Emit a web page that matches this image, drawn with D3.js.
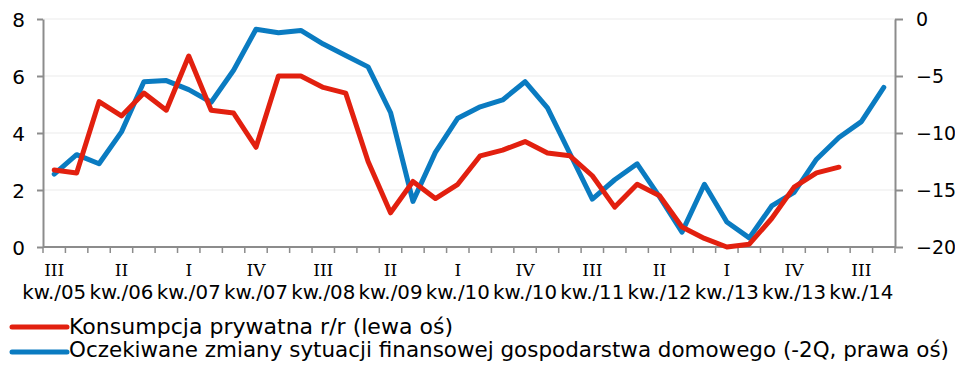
<!DOCTYPE html>
<html><head><meta charset="utf-8">
<script src="https://cdn.jsdelivr.net/npm/d3@7"></script>
<style>body{margin:0;background:#fff}svg{display:block}</style>
</head><body>
<svg id="c" width="955" height="365"></svg>
<script>
const romans = ["III","II","I","IV","III","II","I","IV","III","II","I","IV","III"];
const years  = ["05","06","07","07","08","09","10","10","11","12","13","13","14"];
// quarters 2005Q3 .. 2014Q4 (38 categories)
const quarters = d3.range(38);
const konsumpcja = [2.7,2.6,5.1,4.6,5.4,4.8,6.7,4.8,4.7,3.5,6.0,6.0,5.6,5.4,3.0,1.2,2.3,1.7,2.2,3.2,3.4,3.7,3.3,3.2,2.5,1.4,2.2,1.8,0.7,0.3,0.0,0.1,1.0,2.1,2.6,2.8];
const oczekiwane = [-13.6,-11.9,-12.7,-9.9,-5.5,-5.4,-6.2,-7.3,-4.5,-0.9,-1.2,-1.0,-2.2,-3.2,-4.2,-8.2,-16.0,-11.7,-8.7,-7.7,-7.1,-5.5,-7.8,-11.8,-15.8,-14.1,-12.7,-15.6,-18.7,-14.5,-17.8,-19.2,-16.4,-15.2,-12.3,-10.4,-9.0,-6.0];
const leftTicks = [0,2,4,6,8];
const rightTicks = [-20,-15,-10,-5,0];
const legendLabels = ["Konsumpcja prywatna r/r (lewa oś)","Oczekiwane zmiany sytuacji finansowej gospodarstwa domowego (-2Q, prawa oś)"];
const colors = ["#e2200f","#0a7bc1"];

const svg = d3.select("#c");
const L=43, R=895, T=19, B=247;
const x = d3.scaleBand().domain(quarters).range([L,R]);
const yL = d3.scaleLinear().domain([0,8]).range([B,T]);
const yR = d3.scaleLinear().domain([-20,0]).range([B,T]);
const axisCol = "#8c8c8c";
const font = "'DejaVu Sans', Verdana, sans-serif";

// grid
svg.append("g").selectAll("line").data(leftTicks.filter(d=>d>0)).join("line")
  .attr("x1",L).attr("x2",R).attr("y1",d=>yL(d)).attr("y2",d=>yL(d))
  .attr("stroke","#ebebeb").attr("stroke-width",1);

// left axis
const gl = svg.append("g").attr("transform",`translate(${L},0)`)
  .call(d3.axisLeft(yL).tickValues(leftTicks).tickSize(6).tickSizeOuter(0).tickPadding(12));
// right axis
const gr = svg.append("g").attr("transform",`translate(${R},0)`)
  .call(d3.axisRight(yR).tickValues(rightTicks).tickSize(8).tickSizeOuter(0).tickPadding(13));
[gl,gr].forEach(g=>{
  g.select(".domain").attr("stroke",axisCol).attr("stroke-width",2);
  g.selectAll(".tick line").attr("stroke",axisCol).attr("stroke-width",2);
  g.selectAll(".tick text").attr("font-family",font).attr("font-size",20).attr("fill","#000").attr("dy","0.36em");
});
gr.selectAll(".tick text").attr("font-size",19);

// bottom axis
const gb = svg.append("g");
gb.append("line").attr("x1",L).attr("x2",R).attr("y1",B).attr("y2",B).attr("stroke",axisCol).attr("stroke-width",2);
const bounds = quarters.map(q=>x(q)).concat([x.range()[1]]);
gb.selectAll("line.t").data(bounds).join("line").attr("class","t")
  .attr("x1",d=>d).attr("x2",d=>d).attr("y1",B).attr("y2",B+6).attr("stroke",axisCol).attr("stroke-width",1.5);
const labIdx = romans.map((r,i)=>i*3);
gb.selectAll("text.r").data(labIdx).join("text").attr("class","r")
  .attr("x",d=>x(d)+x.bandwidth()/2).attr("y",276).attr("text-anchor","middle")
  .attr("font-family","'DejaVu Serif', serif").attr("font-size",17).text((d,i)=>romans[i]);
gb.selectAll("text.k").data(labIdx).join("text").attr("class","k")
  .attr("x",d=>x(d)+x.bandwidth()/2).attr("y",299).attr("text-anchor","middle")
  .attr("font-family",font).attr("font-size",20).text((d,i)=>"kw./"+years[i])
  .attr("textLength",64).attr("lengthAdjust","spacingAndGlyphs");

// lines
const lineL = d3.line().x((d,i)=>x(i)+x.bandwidth()/2).y(d=>yL(d));
const lineR = d3.line().x((d,i)=>x(i)+x.bandwidth()/2).y(d=>yR(d));
svg.append("path").attr("d",lineR(oczekiwane)).attr("fill","none").attr("stroke",colors[1])
  .attr("stroke-width",5).attr("stroke-linejoin","round").attr("stroke-linecap","round");
svg.append("path").attr("d",lineL(konsumpcja)).attr("fill","none").attr("stroke",colors[0])
  .attr("stroke-width",5).attr("stroke-linejoin","round").attr("stroke-linecap","round");

// legend
const lg = svg.append("g");
const lw = [384, 880];
const lineY = [327, 352], textY = [334, 357];
legendLabels.forEach((t,i)=>{
  lg.append("line").attr("x1",12).attr("x2",67).attr("y1",lineY[i]).attr("y2",lineY[i])
    .attr("stroke",colors[i]).attr("stroke-width",5).attr("stroke-linecap","round");
  lg.append("text").attr("x",69).attr("y",textY[i]).attr("font-family",font).attr("font-size",21)
    .attr("textLength",lw[i]).attr("lengthAdjust","spacingAndGlyphs").text(t);
});
</script>
</body></html>
